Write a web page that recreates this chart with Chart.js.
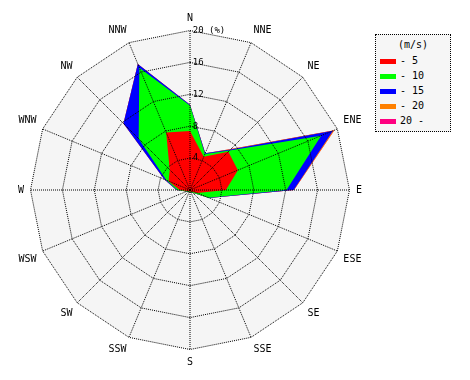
<!DOCTYPE html>
<html>
<head>
<meta charset="utf-8">
<script src="https://cdn.jsdelivr.net/npm/chart.js@4/dist/chart.umd.min.js"></script>
<style>
  body { margin: 0; background: #fff; }
  #wrap { position: relative; width: 470px; height: 380px; }
  #rose { position: absolute; left: 0; top: 0; }
  #legend {
    position: absolute; left: 375px; top: 34px; width: 74px; height: 96px;
    border: 1px dotted #000; background: #f6f6f6;
    font-family: "DejaVu Sans Mono", monospace; font-size: 10px; color: #000;
  }
  #legend .title { text-align: center; margin-top: 4px; height: 14px; line-height: 12px; }
  #legend .row { height: 15px; line-height: 15px; white-space: pre; }
  #legend .sw { display: inline-block; width: 16px; height: 5px; margin: 0 4px 0 4px; vertical-align: middle; }
</style>
</head>
<body>
<div id="wrap">
  <canvas id="rose" width="380" height="380"></canvas>
  <div id="legend"></div>
</div>
<script>
// wind directions, clockwise from north
const directions = ['N', 'NNE', 'NE', 'ENE', 'E', 'ESE', 'SE', 'SSE', 'S', 'SSW', 'SW', 'WSW', 'W', 'WNW', 'NW', 'NNW'];

// frequency (%) per speed band
const speed0to5   = [7.4, 4.5, 6.8, 6.5, 4.5, 1.0, 0.3, 0.2, 0.2, 0.2, 0.2, 0.3, 1.3, 2.9, 3.6, 7.8];
const speed5to10  = [3.2, 0.4, 0.2, 11.3, 7.6, 1.5, 0.2, 0.1, 0.1, 0.1, 0.1, 0.2, 0.3, 0.3, 5.5, 8.8];
const speed10to15 = [0.1, 0.1, 0.2, 1.6, 0.9, 0.1, 0, 0, 0, 0, 0, 0, 0.1, 0.3, 2.7, 0.5];
const speed15to20 = [0, 0, 0.05, 0.2, 0.05, 0, 0, 0, 0, 0, 0, 0, 0, 0, 0, 0];
const speedOver20 = [0, 0, 0, 0, 0, 0, 0, 0, 0, 0, 0, 0, 0, 0, 0, 0];

const bandLabels = ['- 5', '- 10', '- 15', '- 20', '20 -'];
const bandColors = ['#ff0000', '#00ff00', '#0000ff', '#ff8000', '#ff0080'];
const radialTicks = [0, 4, 8, 12, 16, 20];

// stack the bands so each ring is drawn from the centre
const bands = [speed0to5, speed5to10, speed10to15, speed15to20, speedOver20];
var running = directions.map(() => 0);
const stacked = bands.map(band => {
    running = running.map((v, i) => v + band[i]);
    return running.slice();
});

const datasets = stacked.map((values, i) => ({
    label: bandLabels[i],
    data: values,
    backgroundColor: bandColors[i],
    borderWidth: 0,
    pointRadius: 0,
    fill: 'origin',
    order: i
}));

// grey disc behind the data (grid lines go on top, so not the scale background)
const roseBackground = {
    id: 'roseBackground',
    beforeDatasetsDraw(chart) {
        const r = chart.scales.r;
        const ctx = chart.ctx;
        ctx.save();
        ctx.beginPath();
        directions.forEach((d, i) => {
            const p = r.getPointPositionForValue(i, r.max);
            if (i === 0) ctx.moveTo(p.x, p.y); else ctx.lineTo(p.x, p.y);
        });
        ctx.closePath();
        ctx.fillStyle = '#f5f5f5';
        ctx.fill();
        ctx.restore();
    }
};

const mono = 'DejaVu Sans Mono';

new Chart(document.getElementById('rose'), {
    type: 'radar',
    data: { labels: directions, datasets: datasets },
    plugins: [roseBackground],
    options: {
        responsive: false,
        animation: false,
        events: [],
        layout: { padding: 12 },
        plugins: { legend: { display: false }, tooltip: { enabled: false } },
        elements: { line: { tension: 0 } },
        scales: {
            r: {
                min: 0,
                max: 20,
                startAngle: 0,
                grid: { circular: false, color: '#000', lineWidth: 1, z: 1 },
                border: { dash: [1, 1] },
                angleLines: { color: '#000', lineWidth: 1, borderDash: [1, 1] },
                pointLabels: { color: '#000', padding: 0, font: { family: mono, size: 10 } },
                afterBuildTicks: function (axis) {
                    axis.ticks = radialTicks.map(v => ({ value: v }));
                },
                ticks: {
                    z: 1,
                    color: '#000',
                    showLabelBackdrop: false,
                    font: { family: mono, size: 9 },
                    callback: function (value) {
                        // pad left so the centred text starts just right of the N axis
                        if (value === 20) return '       20 (%)';
                        return ' '.repeat(String(value).length + 1) + value;
                    }
                }
            }
        }
    }
});

// legend box
const legend = document.getElementById('legend');
legend.innerHTML = '<div class="title">(m/s)</div>' + bandLabels.map((l, i) =>
    '<div class="row"><span class="sw" style="background:' + bandColors[i] + '"></span>' + l + '</div>'
).join('');
</script>
</body>
</html>
